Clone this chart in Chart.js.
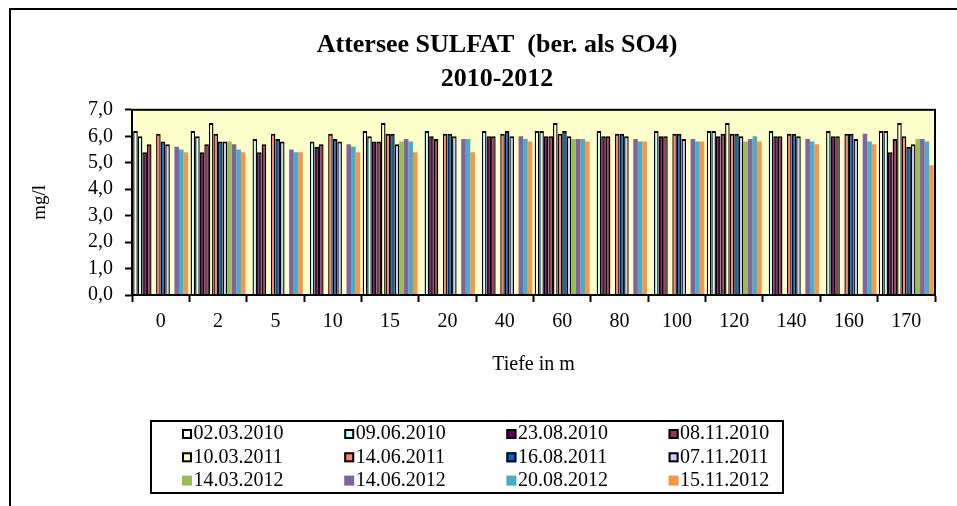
<!DOCTYPE html>
<html>
<head>
<meta charset="utf-8">
<script src="https://cdn.jsdelivr.net/npm/chart.js@4/dist/chart.umd.min.js"></script>
<style>
  body { margin: 0; background: #fff; }
  canvas { display: block; }
</style>
</head>
<body>
<canvas id="chart" width="957" height="506"></canvas>
<script>
// depths (x categories)
const depths = ['0', '2', '5', '10', '15', '20', '40', '60', '80', '100', '120', '140', '160', '170'];

// sampling dates (legend)
const dates = ['02.03.2010', '09.06.2010', '23.08.2010', '08.11.2010',
               '10.03.2011', '14.06.2011', '16.08.2011', '07.11.2011',
               '14.03.2012', '14.06.2012', '20.08.2012', '15.11.2012'];

// sulfate in mg/l, one array per date
const s20100302 = [6.2, 6.2, null, null, 6.2, null, null, 6.2, null, null, 6.2, null, null, 6.2];
const s20100609 = [6.0, 6.0, 5.9, 5.8, 6.0, 6.2, 6.2, 6.2, 6.2, 6.2, 6.2, 6.2, 6.2, 6.2];
const s20100823 = [5.4, 5.4, 5.4, 5.6, 5.8, 6.0, 6.0, 6.0, 6.0, 6.0, 6.0, 6.0, 6.0, 5.4];
const s20101108 = [5.7, 5.7, 5.7, 5.7, 5.8, 5.9, 6.0, 6.0, 6.0, 6.0, 6.1, 6.0, 6.0, 5.9];
const s20110310 = [null, 6.5, null, null, 6.5, null, null, 6.5, null, null, 6.5, null, null, 6.5];
const s20110614 = [6.1, 6.1, 6.1, 6.1, 6.1, 6.1, 6.1, 6.1, 6.1, 6.1, 6.1, 6.1, 6.1, 6.0];
const s20110816 = [5.8, 5.8, 5.9, 5.9, 6.1, 6.1, 6.2, 6.2, 6.1, 6.1, 6.1, 6.1, 6.1, 5.6];
const s20111107 = [5.7, 5.8, 5.8, 5.8, 5.7, 6.0, 6.0, 6.0, 6.0, 5.9, 6.0, 6.0, 5.9, 5.7];
const s20120314 = [null, 5.8, null, null, 5.8, null, null, 5.9, null, null, 5.8, null, null, 5.9];
const s20120614 = [5.6, 5.7, 5.5, 5.7, 5.9, 5.9, 6.0, 5.9, 5.9, 5.9, 5.9, 5.9, 6.1, 5.9];
const s20120820 = [5.5, 5.5, 5.4, 5.6, 5.8, 5.9, 5.9, 5.9, 5.8, 5.8, 6.0, 5.8, 5.8, 5.8];
const s20121115 = [5.4, 5.4, 5.4, 5.4, 5.4, 5.4, 5.8, 5.8, 5.8, 5.8, 5.8, 5.7, 5.7, 4.9];

const series = [s20100302, s20100609, s20100823, s20101108, s20110310, s20110614,
                s20110816, s20111107, s20120314, s20120614, s20120820, s20121115];
const colors = ['#FFFFFF', '#CCFFFF', '#660066', '#993366', '#FFFFCC', '#FF8080',
                '#0066CC', '#CCCCFF', '#9BBB59', '#8064A2', '#4BACC6', '#F79646'];
const outlined = [true, true, true, true, true, true, true, true, false, false, false, false];

const serif = 'Liberation Serif';

const datasets = series.map((values, i) => ({
  label: dates[i],
  data: values,
  backgroundColor: colors[i],
  borderColor: '#000',
  borderWidth: outlined[i] ? { top: 2, left: 1.4, right: 1.4, bottom: 0 } : 0,
  borderSkipped: false,
  categoryPercentage: 0.958,
  barPercentage: 1.0
}));

// frame, plot background and legend
const decor = {
  id: 'decor',
  beforeDraw(chart) {
    const { ctx, chartArea: a } = chart;
    ctx.save();
    ctx.fillStyle = '#fff';
    ctx.fillRect(0, 0, chart.width, chart.height);
    ctx.strokeStyle = '#000';
    ctx.lineWidth = 2;
    ctx.strokeRect(10, 9, chart.width + 20, chart.height + 20);
    ctx.fillStyle = '#FFFFCC';
    ctx.fillRect(a.left, a.top, a.right - a.left, a.bottom - a.top);
    ctx.restore();
  },
  afterDatasetsDraw(chart) {
    const { ctx, chartArea: a } = chart;
    ctx.save();
    ctx.strokeStyle = '#000';
    ctx.lineWidth = 2;
    ctx.strokeRect(a.left, a.top, a.right - a.left, a.bottom - a.top);
    ctx.restore();
  },
  afterDraw(chart) {
    const ctx = chart.ctx;
    ctx.save();
    ctx.strokeStyle = '#000';
    ctx.lineWidth = 2;
    ctx.strokeRect(151, 421, 632, 72);
    ctx.font = '20px "' + serif + '"';
    ctx.textBaseline = 'middle';
    ctx.textAlign = 'left';
    chart.data.datasets.forEach((ds, i) => {
      const x = 182 + (i % 4) * 162.2;
      const y = 434 + Math.floor(i / 4) * 23.3;
      ctx.fillStyle = ds.backgroundColor;
      ctx.fillRect(x, y - 5, 10, 10);
      if (outlined[i]) {
        ctx.lineWidth = 2;
        ctx.strokeRect(x + 1, y - 4, 8, 8);
      }
      ctx.fillStyle = '#000';
      ctx.fillText(ds.label, x + 11.5, y);
    });
    ctx.restore();
  }
};

new Chart(document.getElementById('chart'), {
  type: 'bar',
  data: { labels: depths, datasets: datasets },
  plugins: [decor],
  options: {
    responsive: false,
    animation: false,
    devicePixelRatio: 1,
    layout: { padding: { left: 59, right: 22, top: 0, bottom: 121 } },
    plugins: {
      legend: { display: false },
      tooltip: { enabled: false },
      title: {
        display: true,
        text: ['Attersee SULFAT  (ber. als SO4)', '2010-2012'],
        color: '#000',
        font: { family: serif, size: 26, weight: 'bold', lineHeight: 1.285 },
        padding: { top: 29, bottom: 14 }
      }
    },
    scales: {
      x: {
        afterFit(scale) { scale.height = 90; },
        grid: { offset: true, drawOnChartArea: false, drawTicks: true, tickLength: 7,
                tickWidth: 2, tickColor: '#000' },
        border: { display: true, color: '#000', width: 2 },
        ticks: { color: '#000', font: { family: serif, size: 20 }, padding: 7.5,
                 maxRotation: 0, autoSkip: false },
        title: { display: true, text: 'Tiefe in m', color: '#000',
                 font: { family: serif, size: 20 }, padding: { bottom: 8 } }
      },
      y: {
        min: 0,
        max: 7,
        afterFit(scale) { scale.width = 73; },
        grid: { drawOnChartArea: false, drawTicks: true, tickLength: 7,
                tickWidth: 2, tickColor: '#000' },
        border: { display: true, color: '#000', width: 2 },
        ticks: { stepSize: 1, autoSkip: false, color: '#000', font: { family: serif, size: 20 },
                 padding: 12, callback: v => v.toFixed(1).replace('.', ',') },
        title: { display: true, text: 'mg/l', color: '#000',
                 font: { family: serif, size: 19 }, padding: { top: -30.4, bottom: 0 } }
      }
    }
  }
});
</script>
</body>
</html>
